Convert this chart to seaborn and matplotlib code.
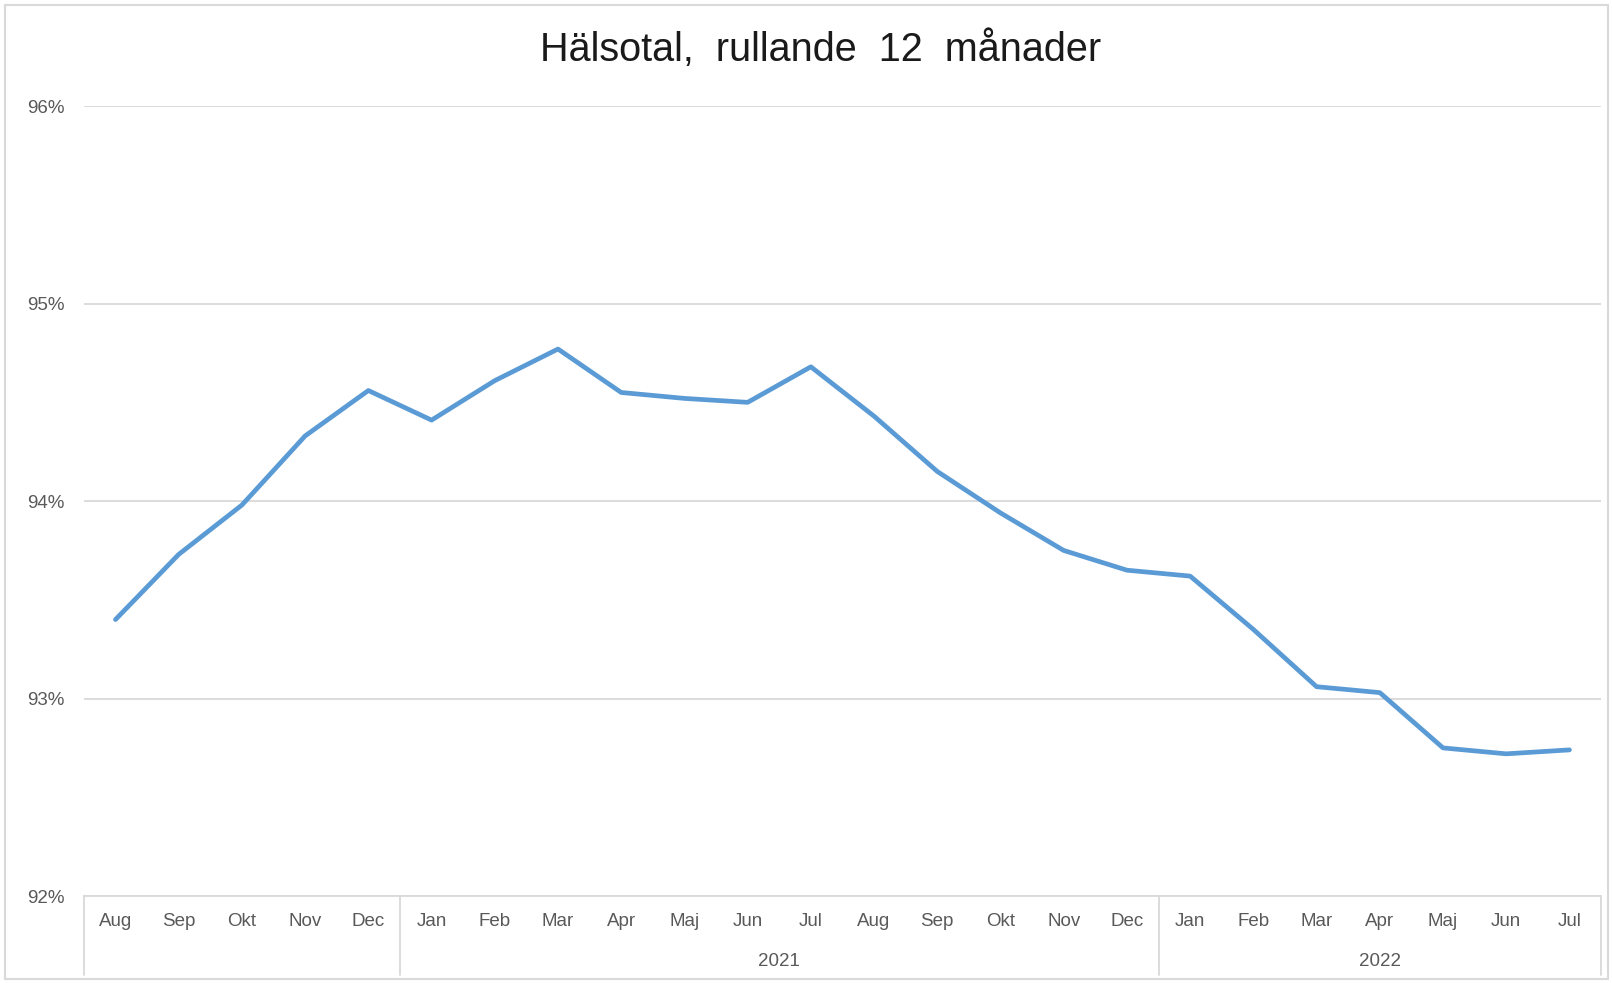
import numpy as np
import pandas as pd
import seaborn as sns
import matplotlib.pyplot as plt
import matplotlib.transforms as mtransforms
from matplotlib.patches import Rectangle

# data
months = ["Aug", "Sep", "Okt", "Nov", "Dec",
          "Jan", "Feb", "Mar", "Apr", "Maj", "Jun", "Jul",
          "Aug", "Sep", "Okt", "Nov", "Dec",
          "Jan", "Feb", "Mar", "Apr", "Maj", "Jun", "Jul"]
halsotal = [93.40, 93.73, 93.98, 94.33, 94.56,
            94.41, 94.61, 94.77, 94.55, 94.52, 94.50, 94.68,
            94.43, 94.15, 93.94, 93.75, 93.65,
            93.62, 93.35, 93.06, 93.03, 92.75, 92.72, 92.74]
years = ["", "2021", "2022"]
year_sizes = [5, 12, 7]

df = pd.DataFrame({"pos": np.arange(len(months)), "value": halsotal})

sns.set_theme(style="white")
plt.rcParams["font.family"] = ["Liberation Sans", "DejaVu Sans"]

fig = plt.figure(figsize=(16.13, 9.83), dpi=100)
ax = fig.add_axes([0.052, 0.0885, 0.9406, 0.8035])

sns.lineplot(data=df, x="pos", y="value", color="#5b9bd5", linewidth=3.4, ax=ax)

ax.set_xlim(-0.5, len(months) - 0.5)
ax.set_ylim(92, 96)
ax.set_yticks([92, 93, 94, 95, 96])
ax.set_yticklabels([f"{v}%" for v in [92, 93, 94, 95, 96]])
ax.set_xticks(df["pos"])
ax.set_xticklabels(months)
ax.set_xlabel("")
ax.set_ylabel("")
ax.yaxis.grid(True, color="#d9d9d9", linewidth=1.3)
ax.xaxis.grid(False)
for s in ["left", "right", "top"]:
    ax.spines[s].set_visible(False)
ax.spines["bottom"].set_color("#d9d9d9")
ax.spines["bottom"].set_linewidth(1.3)
ax.tick_params(axis="y", length=0, pad=14, labelsize=13.5, labelcolor="#595959")
ax.tick_params(axis="x", length=0, pad=12, labelsize=13.5, labelcolor="#595959")

# year groups below the month labels
trans = mtransforms.blended_transform_factory(ax.transData, ax.transAxes)
edges = np.concatenate([[0], np.cumsum(year_sizes)]) - 0.5
for e in edges:
    ax.plot([e, e], [0, -0.1], transform=trans, color="#d9d9d9",
            linewidth=1.3, clip_on=False)
for yr, a, b in zip(years, edges[:-1], edges[1:]):
    if yr:
        ax.text((a + b) / 2, -0.083, yr, transform=trans, ha="center",
                va="center", fontsize=13.5, color="#595959")

fig.suptitle("Hälsotal,  rullande  12  månader", x=0.509, y=0.949, va="center",
             fontsize=28.5, color="#1a1a1a")

fig.patches.append(Rectangle((0.003, 0.004), 0.994, 0.991, transform=fig.transFigure,
                             fill=False, edgecolor="#d9d9d9", linewidth=1.5))

fig.savefig("out.png", dpi=100)
